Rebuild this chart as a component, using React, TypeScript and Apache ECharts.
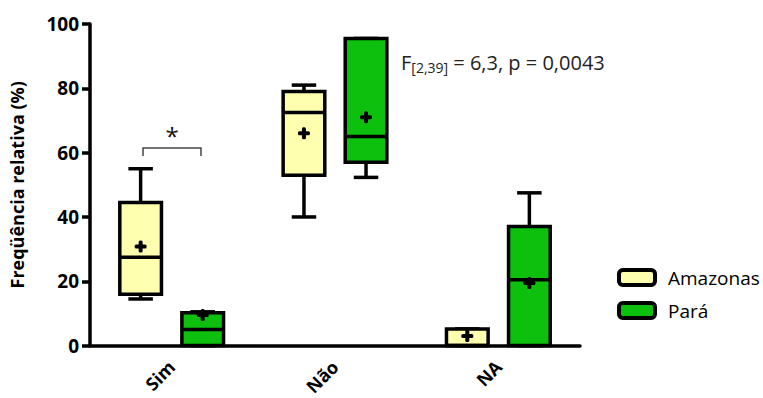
import React, { useEffect, useRef } from "react";
import * as echarts from "echarts";

const categories = ["Sim", "Não", "NA"];
const seriesNames = ["Amazonas", "Pará"];
// [min, q1, median, q3, max, mean]
const amazonas = [
  [14.5, 16, 27.5, 44.5, 55, 30.8],
  [40, 53, 72.5, 79, 81, 66],
  [0, 0, 0, 5.2, 5.2, 3],
];
const para = [
  [0, 0, 5, 10.2, 10.5, 9.5],
  [52.3, 57, 65, 95.5, 95.5, 71],
  [0, 0, 20.5, 37, 47.5, 19.5],
];
const yTicks = [0, 20, 40, 60, 80, 100];
const colors = ["#FFFFB0", "#0DC00D"];
const FONT = "'Open Sans', Lato, sans-serif";

function makeSeries(name: string, data: number[][], color: string, offset: number) {
  return {
    type: "custom",
    name,
    itemStyle: { color },
    encode: { x: 0, y: [1, 2, 3, 4, 5] },
    data: data.map((d, i) => [i, ...d]),
    renderItem: (params: any, api: any) => {
      const ci = api.value(0);
      const vmin = api.value(1);
      const q1 = api.value(2);
      const med = api.value(3);
      const q3 = api.value(4);
      const vmax = api.value(5);
      const mean = api.value(6);
      const band = api.size([1, 0])[0];
      const cx = api.coord([ci, 0])[0] + offset * band;
      const y = (v: number) => api.coord([ci, v])[1];
      const bw = band * 0.255;
      const cw = band * 0.15;
      const lw = 3.5;
      const stroke = { stroke: "#000", lineWidth: lw };
      const children: any[] = [
        { type: "line", shape: { x1: cx, y1: y(q3), x2: cx, y2: y(vmax) }, style: stroke },
        { type: "line", shape: { x1: cx, y1: y(q1), x2: cx, y2: y(vmin) }, style: stroke },
        { type: "line", shape: { x1: cx - cw / 2, y1: y(vmax), x2: cx + cw / 2, y2: y(vmax) }, style: stroke },
        { type: "line", shape: { x1: cx - cw / 2, y1: y(vmin), x2: cx + cw / 2, y2: y(vmin) }, style: stroke },
        {
          type: "rect",
          shape: { x: cx - bw / 2, y: y(q3), width: bw, height: y(q1) - y(q3) },
          style: { fill: color, stroke: "#000", lineWidth: lw },
        },
        { type: "line", shape: { x1: cx - bw / 2, y1: y(med), x2: cx + bw / 2, y2: y(med) }, style: stroke },
        { type: "rect", shape: { x: cx - 6, y: y(mean) - 2, width: 12, height: 4, r: 1.5 }, style: { fill: "#000" } },
        { type: "rect", shape: { x: cx - 2, y: y(mean) - 6, width: 4, height: 12, r: 1.5 }, style: { fill: "#000" } },
      ];
      return { type: "group", children };
    },
  };
}

export default function App() {
  const ref = useRef<HTMLDivElement>(null);
  useEffect(() => {
    const chart = echarts.init(ref.current!, null, { renderer: "svg" });
    chart.setOption({
      animation: false,
      backgroundColor: "#fff",
      grid: { left: 89, top: 24, width: 491, height: 323, containLabel: false },
      legend: {
        orient: "vertical",
        left: 612,
        top: 263,
        itemWidth: 36,
        itemHeight: 15,
        itemGap: 14,
        icon: "roundRect",
        textStyle: { fontFamily: FONT, fontSize: 19, color: "#000", padding: [0, 0, 0, 8] },
        data: seriesNames.map((n, i) => ({
          name: n,
          itemStyle: { color: colors[i], borderColor: "#000", borderWidth: 4 },
        })),
      },
      xAxis: {
        type: "category",
        data: categories,
        axisLine: { lineStyle: { color: "#000", width: 3.5 } },
        axisTick: { alignWithLabel: true, length: 8, lineStyle: { color: "#000", width: 3.5 } },
        axisLabel: {
          rotate: 45,
          margin: 18,
          fontFamily: FONT,
          fontWeight: "bold",
          fontSize: 18,
          color: "#000",
        },
      },
      yAxis: {
        type: "value",
        min: 0,
        max: 100,
        interval: 20,
        splitLine: { show: false },
        axisLine: { show: true, lineStyle: { color: "#000", width: 3.5 } },
        axisTick: { show: true, length: 8, lineStyle: { color: "#000", width: 3.5 } },
        axisLabel: {
          margin: 11,
          fontFamily: FONT,
          fontWeight: "bold",
          fontSize: 19,
          color: "#000",
          formatter: (v: number) => (yTicks.includes(v) ? String(v) : ""),
        },
        name: "Freqüência relativa (%)",
        nameLocation: "middle",
        nameGap: 64,
        nameTextStyle: { fontFamily: FONT, fontWeight: "bold", fontSize: 18, color: "#000" },
      },
      graphic: [
        {
          type: "polyline",
          shape: { points: [[143, 156], [143, 148], [201, 148], [201, 156]] },
          style: { stroke: "#444", lineWidth: 1.5, fill: "none" },
        },
        {
          type: "text",
          x: 172,
          y: 135,
          style: { text: "*", fontFamily: FONT, fontSize: 24, fill: "#111", align: "center", verticalAlign: "middle" },
        },
        {
          type: "text",
          x: 401,
          y: 62,
          style: {
            text: "{a|F}{b|[2,39]}{a| = 6,3, p = 0,0043}",
            verticalAlign: "middle",
            rich: {
              a: { fontFamily: FONT, fontSize: 20, fill: "#222" },
              b: { fontFamily: FONT, fontSize: 14, fill: "#222", padding: [11, 0, 0, 0] },
            },
          },
        },
      ],
      series: [
        makeSeries(seriesNames[0], amazonas, colors[0], -0.19),
        makeSeries(seriesNames[1], para, colors[1], 0.19),
      ],
    });
    return () => chart.dispose();
  }, []);
  return (
    <div
      ref={ref}
      style={{ position: "fixed", left: 0, top: 0, width: 763, height: 398, background: "#fff" }}
    />
  );
}
